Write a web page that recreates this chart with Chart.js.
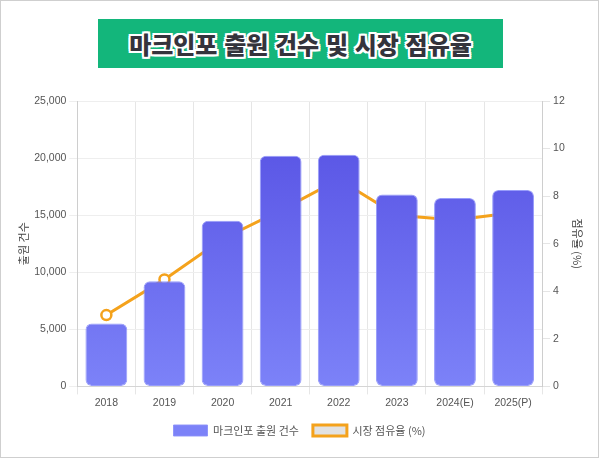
<!DOCTYPE html>
<html lang="ko">
<head>
<meta charset="utf-8">
<title>마크인포 출원 건수 및 시장 점유율</title>
<script src="https://cdn.jsdelivr.net/npm/chart.js@4.4.1/dist/chart.umd.min.js"></script>
<style>
  html, body { margin: 0; padding: 0; background: #fff; }
  .frame {
    position: relative;
    width: 597px;
    height: 456px;
    border: 1px solid #cfcfcf;
    background: #fff;
    overflow: hidden;
  }
  .headline {
    position: absolute;
    left: 97px;
    top: 18px;
    width: 405px;
    height: 49px;
    background: #13b67b;
    color: #34343c;
    font-family: "Noto Sans CJK KR", sans-serif;
    font-weight: 900;
    font-size: 24px;
    line-height: 49px;
    text-align: center;
    text-shadow:
      -2px -2px 0 #fff, 2px -2px 0 #fff, -2px 2px 0 #fff, 2px 2px 0 #fff,
      0 -2px 0 #fff, 0 2px 0 #fff, -2px 0 0 #fff, 2px 0 0 #fff;
  }
  .plot {
    position: absolute;
    left: 0;
    top: 87px;
    width: 597px;
    height: 360px;
  }
</style>
</head>
<body>
<div class="frame">
  <div class="headline">마크인포 출원 건수 및 시장 점유율</div>
  <div class="plot"><canvas id="chartMark"></canvas></div>
</div>
<script>
  var years = ['2018', '2019', '2020', '2021', '2022', '2023', '2024(E)', '2025(P)'];
  var filings = [5500, 9200, 14500, 20200, 20300, 16800, 16500, 17200];
  var share = [3.0, 4.5, 6.2, 7.4, 8.7, 7.2, 7.0, 7.3];

  var tickFont = { family: '"Liberation Sans", Arial, sans-serif', size: 10.5 };
  var korFont = { family: '"Noto Sans CJK KR", sans-serif', size: 11 };

  function barFill(ctx) {
    var area = ctx.chart.chartArea;
    if (!area) {
      return '#6c6ff0';
    }
    var g = ctx.chart.ctx.createLinearGradient(0, area.top, 0, area.bottom);
    g.addColorStop(0, 'rgb(84, 78, 226)');
    g.addColorStop(1, 'rgb(124, 130, 248)');
    return g;
  }

  new Chart(document.getElementById('chartMark'), {
    data: {
      labels: years,
      datasets: [
        {
          type: 'bar',
          label: '마크인포 출원 건수',
          data: filings,
          backgroundColor: barFill,
          borderColor: 'rgba(140, 145, 250, 0.9)',
          borderWidth: 1,
          borderRadius: 6,
          borderSkipped: false,
          yAxisID: 'y'
        },
        {
          type: 'line',
          label: '시장 점유율 (%)',
          data: share,
          borderColor: '#f4a21c',
          backgroundColor: '#e2e2e2',
          borderWidth: 3,
          tension: 0,
          pointRadius: 5,
          pointBorderWidth: 2.5,
          pointBackgroundColor: '#ffffff',
          pointBorderColor: '#f4a21c',
          yAxisID: 'y1'
        }
      ]
    },
    options: {
      responsive: true,
      maintainAspectRatio: false,
      animation: false,
      layout: { padding: { left: 9, right: 9, top: 13, bottom: 2 } },
      plugins: {
        legend: {
          position: 'bottom',
          labels: {
            boxWidth: 34,
            boxHeight: 11,
            padding: 14,
            color: '#555',
            font: { family: '"Noto Sans CJK KR", sans-serif', size: 11 }
          }
        },
        tooltip: { enabled: false }
      },
      scales: {
        x: {
          grid: { color: '#e6e6e6' },
          ticks: { color: '#555', font: tickFont, padding: 2 }
        },
        y: {
          position: 'left',
          min: 0,
          max: 25000,
          ticks: {
            stepSize: 5000,
            color: '#555',
            font: tickFont,
            callback: function (v) { return Number(v).toLocaleString('en-US'); }
          },
          grid: { color: '#eeeeee' },
          title: {
            display: true,
            text: '출원 건수',
            color: '#444',
            font: korFont,
            padding: { top: 7, bottom: 1 }
          }
        },
        y1: {
          position: 'right',
          min: 0,
          max: 12,
          ticks: { stepSize: 2, color: '#555', font: tickFont },
          grid: { drawOnChartArea: false },
          title: {
            display: true,
            text: '점유율 (%)',
            color: '#444',
            font: korFont,
            padding: { top: 5, bottom: 3 }
          }
        }
      }
    }
  });
</script>
</body>
</html>
